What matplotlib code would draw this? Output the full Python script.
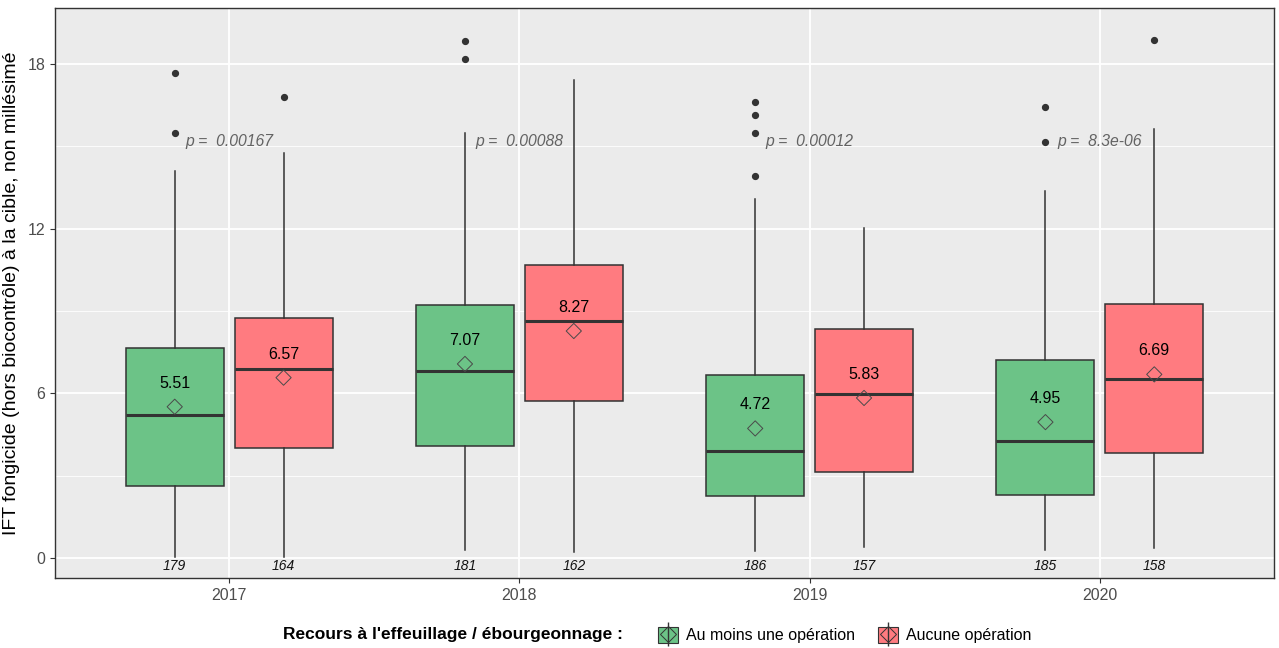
import matplotlib
matplotlib.use("Agg")
import matplotlib.pyplot as plt
from matplotlib.patches import Patch
from matplotlib.lines import Line2D
from matplotlib.legend_handler import HandlerTuple
import numpy as np

plt.rcParams['font.family'] = ['Liberation Sans', 'DejaVu Sans']

years = ['2017', '2018', '2019', '2020']
groups = ['Au moins une opération', 'Aucune opération']

counts_green = [179, 181, 186, 185]
counts_red = [164, 162, 157, 158]
means_green = [5.51, 7.07, 4.72, 4.95]
means_red = [6.57, 8.27, 5.83, 6.69]

whislo_green = [0.04, 0.30, 0.24, 0.30]
q1_green = [2.63, 4.07, 2.27, 2.31]
med_green = [5.21, 6.80, 3.90, 4.28]
q3_green = [7.64, 9.21, 6.68, 7.22]
whishi_green = [14.11, 15.47, 13.09, 13.36]
fliers_green = [[17.68, 15.49], [18.82, 18.17], [16.63, 16.13, 15.47, 13.92], [16.45, 15.15]]

whislo_red = [0.04, 0.20, 0.40, 0.36]
q1_red = [4.00, 5.73, 3.14, 3.84]
med_red = [6.90, 8.65, 5.96, 6.53]
q3_red = [8.73, 10.69, 8.35, 9.26]
whishi_red = [14.76, 17.42, 12.02, 15.63]
fliers_red = [[16.79], [], [], [18.86]]

p_values = ['0.00167', '0.00088', '0.00012', '8.3e-06']

green = '#6CC387'
red = '#FF7B80'
edge = '#333333'

fig = plt.figure(figsize=(12.79, 6.48), dpi=100)
ax = fig.add_axes([55/1279, 70/648, (1274-55)/1279, (578-8)/648])
ax.set_facecolor('#EBEBEB')

x = np.arange(1, len(years) + 1)
dodge = 0.1875
width = 0.3375

def make_stats(wl, q1, med, q3, wh, fl, mn):
    return [dict(whislo=a, q1=b, med=c, q3=d, whishi=e, fliers=f, mean=m)
            for a, b, c, d, e, f, m in zip(wl, q1, med, q3, wh, fl, mn)]

sets = [
    (make_stats(whislo_green, q1_green, med_green, q3_green, whishi_green, fliers_green, means_green),
     x - dodge, green, means_green, counts_green),
    (make_stats(whislo_red, q1_red, med_red, q3_red, whishi_red, fliers_red, means_red),
     x + dodge, red, means_red, counts_red),
]

for stats, pos, col, means, counts in sets:
    ax.bxp(stats, positions=pos, widths=width, patch_artist=True,
           showcaps=False, showmeans=False, manage_ticks=False,
           boxprops=dict(facecolor=col, edgecolor=edge, linewidth=1.1),
           medianprops=dict(color=edge, linewidth=2.2),
           whiskerprops=dict(color=edge, linewidth=1.1),
           flierprops=dict(marker='o', markersize=4.2, markerfacecolor=edge,
                           markeredgecolor=edge, linestyle='none'),
           zorder=3)
    ax.scatter(pos, means, marker='D', s=60, facecolors='none',
               edgecolors='#4a4a4a', linewidths=0.7, zorder=5)
    for p, m, n in zip(pos, means, counts):
        ax.text(p, m + 0.86, f'{m:.2f}', ha='center', va='center',
                fontsize=11.5, color='black', zorder=6)
        ax.text(p, -0.29, str(n), ha='center', va='center',
                fontsize=10, style='italic', color='#111111', zorder=6)

for xi, pv in zip(x, p_values):
    ax.text(xi, 15.18, f'p =  {pv}', ha='center', va='center',
            fontsize=11.3, style='italic', color='#636363', zorder=6)

ax.set_xlim(0.4, 4.6)
ax.set_ylim(-0.73, 20.04)
ax.set_xticks(x)
ax.set_xticklabels(years)
ax.set_yticks([0, 6, 12, 18])
ax.set_yticks([3, 9, 15], minor=True)
ax.grid(which='major', color='white', linewidth=1.3, zorder=0)
ax.grid(which='minor', axis='y', color='white', linewidth=0.6, zorder=0)
ax.set_axisbelow(True)
ax.tick_params(axis='both', which='major', length=3.5, width=0.8, color='#333333',
               labelsize=11.5, labelcolor='#4D4D4D')
ax.tick_params(axis='y', which='minor', length=0)
for s in ax.spines.values():
    s.set_color('#333333')
    s.set_linewidth(1.0)

ax.set_ylabel('IFT fongicide (hors biocontrôle) à la cible, non millésimé',
              fontsize=14, color='black', labelpad=5)

# legend
fig.text(283/1279, 1 - 635/648, "Recours à l'effeuillage / ébourgeonnage :",
         ha='left', va='center', fontsize=12.5, fontweight='bold', color='black')

handles = []
for col in [green, red]:
    h = (Patch(facecolor=col, edgecolor=edge, linewidth=0.8),
         Line2D([], [], color=edge, linewidth=0.8, marker='|', markersize=17, linestyle='none'),
         Line2D([], [], marker='D', markersize=8, markerfacecolor='none',
                markeredgecolor=edge, markeredgewidth=0.7, linestyle='none'))
    handles.append(h)

fig.legend(handles, groups, loc='center left', bbox_to_anchor=(644/1279, 1 - 635/648),
           ncol=2, frameon=False, fontsize=11.5, handlelength=1.2, handleheight=1.2,
           handletextpad=0.55, columnspacing=1.45,
           handler_map={tuple: HandlerTuple(ndivide=1, pad=0)})

fig.savefig('out.png', dpi=100)
